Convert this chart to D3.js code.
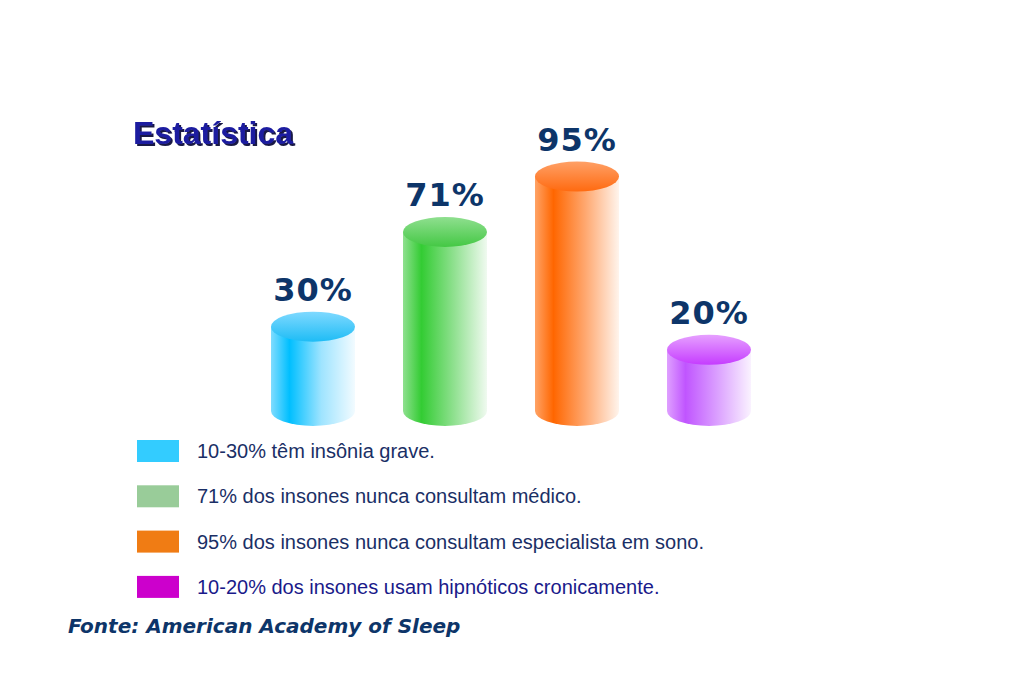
<!DOCTYPE html>
<html>
<head>
<meta charset="utf-8">
<script src="https://cdn.jsdelivr.net/npm/d3@7"></script>
<style>
  body { margin: 0; background: #fff; }
  svg { display: block; }
</style>
</head>
<body>
<div id="chart"></div>
<script>
const width = 1023;
const height = 682;

// data
const categories = ["grave", "medico", "especialista", "hipnoticos"];
const values = [30, 71, 95, 20];
const valueLabels = ["30%", "71%", "95%", "20%"];
const legendLabels = [
  "10-30% têm insônia grave.",
  "71% dos insones nunca consultam médico.",
  "95% dos insones nunca consultam especialista em sono.",
  "10-20% dos insones usam hipnóticos cronicamente.",
];
const legendColors = ["#33ccff", "#99cc99", "#f07c14", "#cc00cc"];
// body: [edge, core, light, right], top: [upper, lower]
const bodyColors = [
  ["#7fdcff", "#00bfff", "#9fe4ff", "#f2fbff"],
  ["#8fe08f", "#33cc33", "#8ee08e", "#f0faf0"],
  ["#ffa366", "#ff6600", "#ffa870", "#fff4ec"],
  ["#dfa0ff", "#c055ff", "#dba0ff", "#faf2ff"],
];
const topColors = [
  ["#7fd9ff", "#1ebcf5"],
  ["#8fdf8f", "#44c844"],
  ["#ffa066", "#ff6a10"],
  ["#e6a0ff", "#c53cff"],
];

const title = "Estatística";
const source = "Fonte: American Academy of Sleep";

const navy = "#0d3569";
const rx = 42;
const ry = 15;
const baseY = 411;

const svg = d3
  .select("#chart")
  .append("svg")
  .attr("width", width)
  .attr("height", height);

const xScale = d3
  .scaleBand()
  .domain(categories)
  .range([247, 775])
  .paddingInner(0.3636)
  .paddingOuter(0.1818);

const yScale = d3.scaleLinear().domain([0, 100]).range([396, 165]);

const defs = svg.append("defs");

categories.forEach((c, i) => {
  const b = bodyColors[i];
  const g = defs
    .append("linearGradient")
    .attr("id", `body-${i}`)
    .attr("x1", "0%")
    .attr("x2", "100%")
    .attr("y1", "0%")
    .attr("y2", "0%");
  [
    [0, b[0]],
    [0.22, b[1]],
    [0.6, b[2]],
    [1, b[3]],
  ].forEach((s) => g.append("stop").attr("offset", s[0]).attr("stop-color", s[1]));

  const t = defs
    .append("linearGradient")
    .attr("id", `top-${i}`)
    .attr("x1", "0%")
    .attr("x2", "0%")
    .attr("y1", "0%")
    .attr("y2", "100%");
  t.append("stop").attr("offset", 0).attr("stop-color", topColors[i][0]);
  t.append("stop").attr("offset", 1).attr("stop-color", topColors[i][1]);
});

defs
  .append("filter")
  .attr("id", "shadow")
  .append("feDropShadow")
  .attr("dx", 2)
  .attr("dy", 2)
  .attr("stdDeviation", 0.4)
  .attr("flood-color", "#000033")
  .attr("flood-opacity", 0.9);

// title
svg
  .append("text")
  .attr("x", 133)
  .attr("y", 144)
  .attr("font-family", "Liberation Sans, Arial, sans-serif")
  .attr("font-weight", "bold")
  .attr("font-size", 32)
  .attr("fill", "#1f1fa0")
  .attr("filter", "url(#shadow)")
  .text(title);

// cylinders
const bars = svg
  .selectAll(".bar")
  .data(values)
  .join("g")
  .attr("class", "bar");

bars
  .append("path")
  .attr("fill", (d, i) => `url(#body-${i})`)
  .attr("d", (d, i) => {
    const x0 = xScale(categories[i]);
    const x1 = x0 + xScale.bandwidth();
    const yt = yScale(d);
    return `M${x0},${yt} L${x0},${baseY} A${rx},${ry} 0 0 0 ${x1},${baseY} L${x1},${yt} Z`;
  });

bars
  .append("ellipse")
  .attr("cx", (d, i) => xScale(categories[i]) + xScale.bandwidth() / 2)
  .attr("cy", (d) => yScale(d))
  .attr("rx", xScale.bandwidth() / 2)
  .attr("ry", ry)
  .attr("fill", (d, i) => `url(#top-${i})`);

bars
  .append("text")
  .attr("x", (d, i) => xScale(categories[i]) + xScale.bandwidth() / 2)
  .attr("y", (d) => yScale(d) - ry - 11)
  .attr("text-anchor", "middle")
  .attr("font-family", "DejaVu Sans, Verdana, sans-serif")
  .attr("font-weight", "bold")
  .attr("font-size", 32)
  .attr("letter-spacing", 1)
  .attr("fill", navy)
  .text((d, i) => valueLabels[i]);

// legend
const legend = svg
  .selectAll(".legend-row")
  .data(legendLabels)
  .join("g")
  .attr("class", "legend-row")
  .attr("transform", (d, i) => `translate(0, ${451 + i * 45.3})`);

legend
  .append("rect")
  .attr("x", 137)
  .attr("y", -11)
  .attr("width", 42)
  .attr("height", 22)
  .attr("fill", (d, i) => legendColors[i]);

legend
  .append("text")
  .attr("x", 197)
  .attr("y", 7)
  .attr("font-family", "Liberation Sans, Arial, sans-serif")
  .attr("font-size", 20)
  .attr("fill", (d, i) => (i === 3 ? "#1a1a8a" : "#1a2f66"))
  .text((d) => d);

// source
svg
  .append("text")
  .attr("x", 68)
  .attr("y", 633)
  .attr("font-family", "DejaVu Sans, Verdana, sans-serif")
  .attr("font-weight", "bold")
  .attr("font-style", "italic")
  .attr("font-size", 20)
  .attr("fill", navy)
  .text(source);
</script>
</body>
</html>
